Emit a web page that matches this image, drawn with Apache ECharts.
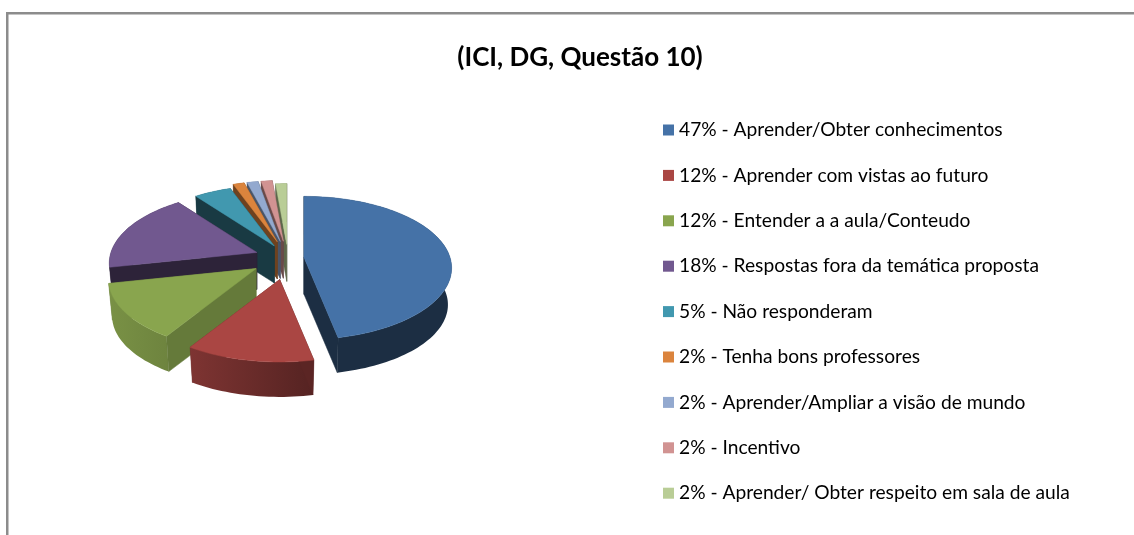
<!DOCTYPE html>
<html>
<head>
<meta charset="utf-8">
<style>html,body{margin:0;padding:0;background:#fff}#container{width:1134px;height:535px}</style>
<script src="https://cdn.jsdelivr.net/npm/echarts@6/dist/echarts.min.js"></script>
</head>
<body>
<div id="container"></div>
<script>
const chart_title = '(ICI, DG, Questão 10)';
const labels = [
    '47% - Aprender/Obter conhecimentos',
    '12% - Aprender com vistas ao futuro',
    '12% - Entender a a aula/Conteudo',
    '18% - Respostas fora da temática proposta',
    '5% - Não responderam',
    '2% - Tenha bons professores',
    '2% - Aprender/Ampliar a visão de mundo',
    '2% - Incentivo',
    '2% - Aprender/ Obter respeito em sala de aula'
];
// shares as drawn in the picture (the legend percentages are rounded)
const values = [46.8, 12.2, 12.7, 18, 4.7, 1.4, 1.4, 1.4, 1.4];
const colors = ['#4572A7', '#AA4643', '#89A54E', '#71588F', '#4198AF', '#DB843D', '#93A9CF', '#D19392', '#B9CD96'];

// how far each slice is pulled out of the pie (fraction of the radius)
const explode = [0.11, 0.3, 0.26, 0.23, 0.2, 0.25, 0.25, 0.25, 0.2];
// wall darkness at the left and right end of each slice
const wall_left = [0.4, 0.74, 0.88, 0.4, 0.38, 0.5, 0.5, 0.5, 0.5];
const wall_right = [0.4, 0.5, 0.68, 0.4, 0.38, 0.5, 0.5, 0.5, 0.5];
// painted back to front
const draw_order = [8, 7, 6, 5, 4, 3, 2, 1, 0];

const cx = 288, cy = 258, rx = 146, ry = 70, persp = 0.15, depth = 37;
const total = values.reduce((a, b) => a + b, 0);

function shade(hex, f) {
    const n = parseInt(hex.slice(1), 16);
    return 'rgb(' + [n >> 16, (n >> 8) & 255, n & 255].map(c => Math.round(c * f)).join(',') + ')';
}

function project(angle, r) {
    const u = Math.sin(angle) * r, v = -Math.cos(angle) * r;
    const w = 1 / (1 - persp * v);
    return [rx * u * w, ry * v * w];
}

function sliceShapes(i) {
    const before = values.slice(0, i).reduce((a, b) => a + b, 0);
    const a0 = before / total * Math.PI * 2;
    const a1 = (before + values[i]) / total * Math.PI * 2;
    const off = project((a0 + a1) / 2, explode[i]);
    const ax = cx + off[0], ay = cy + off[1];

    const rim = [], rimLow = [];
    const steps = Math.max(3, Math.ceil((a1 - a0) / 0.03));
    for (let s = 0; s <= steps; s++) {
        const p = project(a0 + (a1 - a0) * s / steps, 1);
        rim.push([ax + p[0], ay + p[1]]);
        rimLow.push([ax + p[0] * 0.975, ay + p[1] * 0.975 + depth]);
    }
    const xs = rim.map(p => p[0]).concat(ax);
    const minx = Math.min(...xs), maxx = Math.max(...xs);
    const wallAt = x => shade(colors[i], wall_left[i] + (wall_right[i] - wall_left[i]) * (x - minx) / (maxx - minx));

    const cut = (p, q) => {
        const col = wallAt((p[0] + ax) / 2);
        return {
            type: 'polygon',
            shape: { points: [[ax, ay], p, q, [ax, ay + depth]] },
            style: { fill: col, stroke: col, lineWidth: 0.5 }
        };
    };
    const last = rim.length - 1;
    const cut0 = cut(rim[0], rimLow[0]), cut1 = cut(rim[last], rimLow[last]);
    const arc = {
        type: 'polygon',
        shape: { points: rim.concat(rimLow.slice().reverse()) },
        style: {
            fill: {
                type: 'linear', global: true, x: minx, y: 0, x2: maxx, y2: 0,
                colorStops: [{ offset: 0, color: wallAt(minx) }, { offset: 1, color: wallAt(maxx) }]
            }
        }
    };
    const back = rim[0][1] < rim[last][1] ? cut0 : cut1;
    const front = back === cut0 ? cut1 : cut0;
    const top = {
        type: 'polygon',
        shape: { points: [[ax, ay]].concat(rim) },
        style: { fill: colors[i], stroke: colors[i], lineWidth: 0.5 }
    };
    return { type: 'group', children: [back, arc, front, top] };
}

const series = labels.map((name, i) => ({
    type: 'custom',
    name,
    coordinateSystem: 'none',
    z: 2 + draw_order.indexOf(i),
    silent: true,
    itemStyle: { color: colors[i] },
    data: [values[i]],
    renderItem: () => sliceShapes(i)
}));

const myChart = echarts.init(document.getElementById('container'));
const option = {
    animation: false,
    backgroundColor: '#fff',
    title: {
        text: chart_title,
        left: 575,
        top: 40,
        textAlign: 'center',
        textStyle: { fontFamily: 'Lato', fontSize: 26, fontWeight: 'bold', color: '#000' }
    },
    legend: {
        orient: 'vertical',
        left: 658,
        top: 114,
        icon: 'rect',
        itemWidth: 11,
        itemHeight: 11,
        itemGap: 23.4,
        textStyle: { fontFamily: 'Lato', fontSize: 19.2, color: '#000', lineHeight: 22 },
        selectedMode: false,
        data: labels
    },
    graphic: [
        { type: 'rect', silent: true, shape: { x: 6, y: 12, width: 1128, height: 2.5 }, style: { fill: '#8c8c8c' } },
        { type: 'rect', silent: true, shape: { x: 6, y: 12, width: 2.5, height: 523 }, style: { fill: '#8c8c8c' } }
    ],
    series
};
myChart.setOption(option);
window.addEventListener('resize', myChart.resize);
</script>
</body>
</html>
